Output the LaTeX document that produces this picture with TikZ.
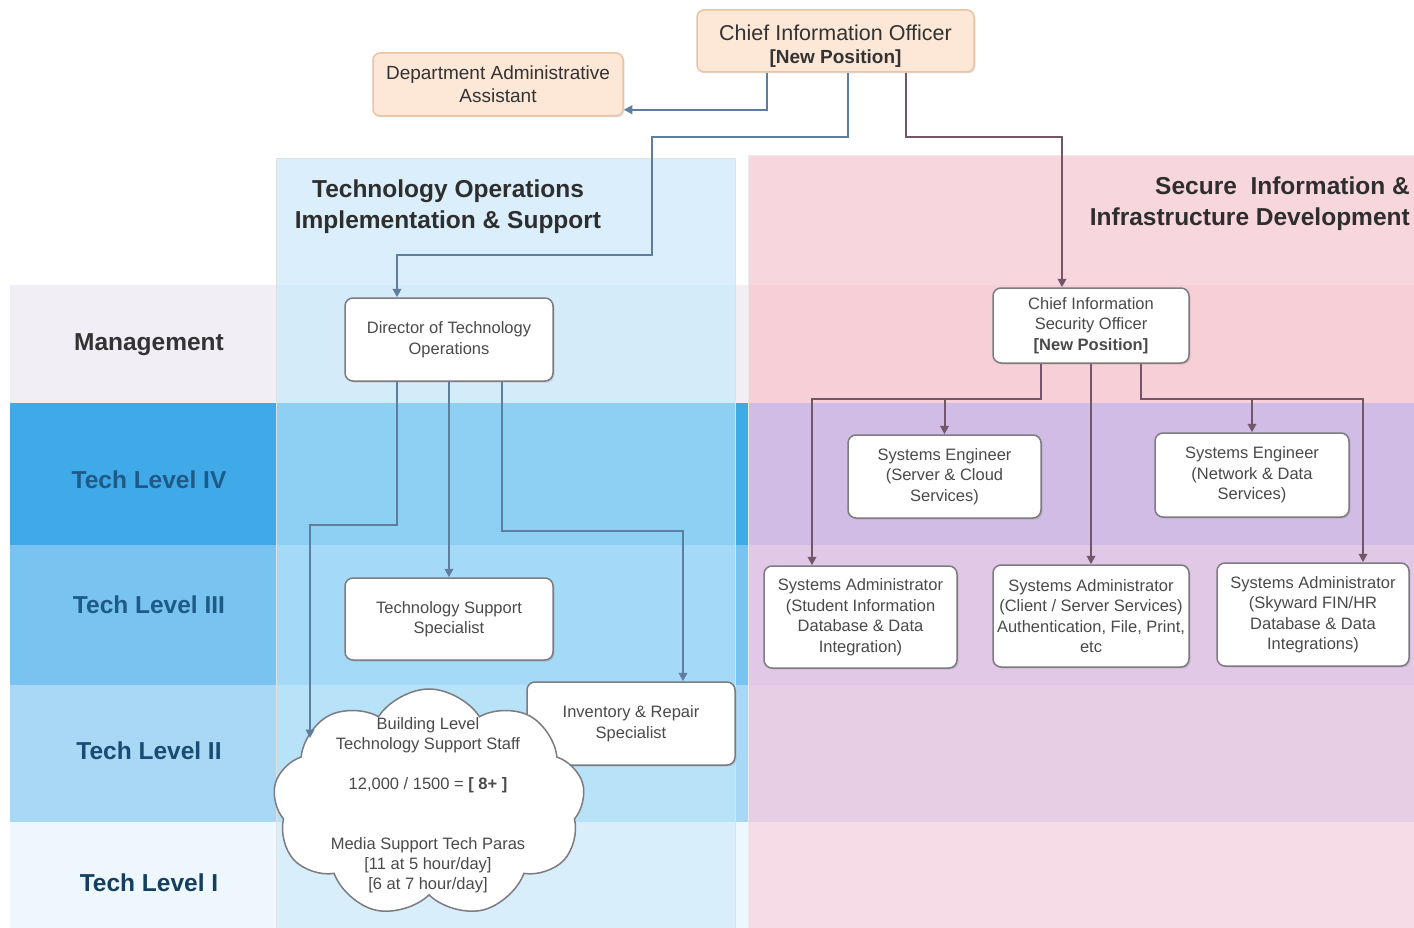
\documentclass[tikz,border=0pt]{standalone}
\usepackage{fontspec}
\setmainfont{Liberation Sans}
\usetikzlibrary{arrows.meta,shapes.symbols,shadows}
\definecolor{lMg}{HTML}{F2EEF5}
\definecolor{lIV}{HTML}{40AAE8}
\definecolor{lIII}{HTML}{78C3EF}
\definecolor{lII}{HTML}{A8D8F5}
\definecolor{lI}{HTML}{EEF7FD}
\definecolor{bTop}{HTML}{DAEFFB}
\definecolor{bMg}{HTML}{D4EBFA}
\definecolor{bIV}{HTML}{8ECFF4}
\definecolor{bIII}{HTML}{A4DAF7}
\definecolor{bII}{HTML}{B8E2F8}
\definecolor{bI}{HTML}{D8EEFB}
\definecolor{pTop}{HTML}{F8D6DD}
\definecolor{pMg}{HTML}{F7CFD7}
\definecolor{pIV}{HTML}{D0BCE4}
\definecolor{pIII}{HTML}{E0C8E6}
\definecolor{pII}{HTML}{E8CEE5}
\definecolor{pI}{HTML}{F5DCE6}
\definecolor{peach}{HTML}{FDE7D6}
\definecolor{peachB}{HTML}{EBC3A2}
\definecolor{boxB}{HTML}{7C7C80}
\definecolor{txt}{HTML}{4A4A4A}
\definecolor{connL}{HTML}{5F7D9C}
\definecolor{connR}{HTML}{74566A}
\definecolor{lvl}{HTML}{1E5A88}
\tikzset{
  box/.style={draw=boxB, line width=1.5pt, fill=white, rounded corners=8pt, align=center,
    text=txt, font=\fontsize{16.5}{20.5}\selectfont, inner sep=3pt,
    drop shadow={shadow xshift=1.5pt, shadow yshift=-1.5pt, opacity=0.25}},
  peachbox/.style={draw=peachB, line width=1.5pt, fill=peach, rounded corners=7pt, align=center,
    text=black!80, drop shadow={shadow xshift=1.5pt, shadow yshift=-1.5pt, opacity=0.2}},
  lvltext/.style={font=\fontsize{24.5}{28}\selectfont\bfseries},
  title/.style={font=\fontsize{24.5}{31}\selectfont\bfseries, text=black!82},
  connl/.style={draw=connL, line width=2pt, -{Triangle[length=8.5pt,width=8.5pt]}},
  connr/.style={draw=connR, line width=2pt, -{Triangle[length=8.5pt,width=8.5pt]}},
}
\begin{document}
\begin{tikzpicture}[x=1pt,y=-1pt]
\useasboundingbox (0,0) rectangle (1414,928);
\fill[white] (0,0) rectangle (1414,928);
% left label column and gap (bands)
\fill[lMg] (10,285) rectangle (748,403);
\fill[lIV] (10,403) rectangle (748,545);
\fill[lIII] (10,545) rectangle (748,685);
\fill[lII] (10,685) rectangle (748,822);
\fill[lI] (10,822) rectangle (748,928);
% blue column
\fill[bTop] (276,158) rectangle (735,285);
\fill[bMg] (276,285) rectangle (735,403);
\fill[bIV] (276,403) rectangle (735,545);
\fill[bIII] (276,545) rectangle (735,685);
\fill[bII] (276,685) rectangle (735,822);
\fill[bI] (276,822) rectangle (735,928);
\draw[draw=black!12, line width=0.8pt] (276,928) -- (276,158) -- (735,158) -- (735,928);
% pink column
\fill[pTop] (748,155) rectangle (1414,285);
\fill[pMg] (748,285) rectangle (1414,403);
\fill[pIV] (748,403) rectangle (1414,545);
\fill[pIII] (748,545) rectangle (1414,685);
\fill[pII] (748,685) rectangle (1414,822);
\fill[pI] (748,822) rectangle (1414,928);
\draw[draw=black!8, line width=0.8pt] (748,928) -- (748,155) -- (1414,155);
% level labels
\node[lvltext, text=black!80] (lmg) at (149,345) {Management};
\node[lvltext, text=lvl] (l4) at (149,480) {Tech Level IV};
\node[lvltext, text=lvl] (l3) at (149,605) {Tech Level III};
\node[lvltext, text=lvl!85!black] (l2) at (149,751) {Tech Level II};
\node[lvltext, text=lvl!70!black] (l1) at (149,883) {Tech Level I};
% titles
\node[title, align=center] (tblue) at (448,207) {Technology Operations\\Implementation \& Support};
\node[title, align=right, anchor=east, inner sep=0pt] (tpink) at (1410,204) {Secure\ \ Information \&\\Infrastructure Development};
% top boxes
\node[peachbox, minimum width=277pt, minimum height=62pt, font=\fontsize{21.5}{24}\selectfont] (cio) at (835.5,41)
  {\rule{0pt}{26pt}Chief Information Officer\\[-1pt]{\fontsize{19}{22}\selectfont\bfseries [New Position]}};
\node[peachbox, minimum width=250pt, minimum height=63pt, font=\fontsize{19}{23}\selectfont] (dept) at (498,84.5)
  {Department Administrative\\Assistant};
% left branch
\node[box, minimum width=208pt, minimum height=83pt] (dir) at (449,339.5) {Director of Technology\\Operations};
\node[box, minimum width=208pt, minimum height=82pt] (tss) at (449,619) {Technology Support\\Specialist};
\node[box, minimum width=208pt, minimum height=83pt] (inv) at (631,723.5) {Inventory \& Repair\\Specialist};
\node[cloud, cloud puffs=9, cloud puff arc=115, aspect=1.3, draw=boxB, line width=1.5pt, fill=white,
  minimum width=312pt, minimum height=228pt, inner sep=0pt] (cloud) at (429,803) {};
\node[align=center, text=txt, font=\fontsize{16.5}{20}\selectfont] (cloudtxt) at (428,805)
  {Building Level\\Technology Support Staff\\[20pt]12,000 / 1500 = {\bfseries[ 8+ ]}\\[40pt]Media Support Tech Paras\\{}[11 at 5 hour/day]\\{}[6 at 7 hour/day]};
\coordinate (cloudin) at (310,738);
% right branch
\node[box, minimum width=196pt, minimum height=75pt] (ciso) at (1091,325.5) {Chief Information\\Security Officer\\{\bfseries [New Position]}};
\node[box, minimum width=193pt, minimum height=83pt] (se1) at (944.5,476.5) {Systems Engineer\\(Server \& Cloud\\Services)};
\node[box, minimum width=194pt, minimum height=84pt] (se2) at (1252,475) {Systems Engineer\\(Network \& Data\\Services)};
\node[box, minimum width=193pt, minimum height=102pt] (sa1) at (860.5,617) {Systems Administrator\\(Student Information\\Database \& Data\\Integration)};
\node[box, minimum width=196pt, minimum height=102pt, inner sep=0pt] (sa2) at (1091,616) {Systems Administrator\\(Client / Server Services)\\Authentication, File, Print,\\etc};
\node[box, minimum width=192pt, minimum height=103pt] (sa3) at (1313,614.5) {Systems Administrator\\(Skyward FIN/HR\\Database \& Data\\Integrations)};
% connectors from CIO
\draw[connl] ([xshift=-68.5pt]cio.south) |- ([yshift=7pt]dept.south east);
\draw[connl] ([xshift=12.5pt]cio.south) -- (848,137) -- (652,137) -- (652,255) -| ([xshift=-52pt]dir.north);
\draw[connr] ([xshift=70.5pt]cio.south) -- (906,137) -| ([xshift=-29pt]ciso.north);
% connectors from Director
\draw[connl] ([xshift=-52pt]dir.south) -- (397,525) -| (cloudin);
\draw[connl] (dir.south) -- (tss.north);
\draw[connl] ([xshift=53pt]dir.south) -- (502,531) -| ([xshift=52pt]inv.north);
% connectors from CISO
\draw[connr] ([xshift=-50pt]ciso.south) -- (1041,399) -| ([xshift=-48.5pt]sa1.north);
\draw[connr] (se1.north |- 0,399) -- (se1.north);
\draw[connr] (ciso.south) -- (sa2.north);
\draw[connr] ([xshift=50pt]ciso.south) -- (1141,399) -| ([xshift=50pt]sa3.north);
\draw[connr] (se2.north |- 0,399) -- (se2.north);
\end{tikzpicture}
\end{document}
